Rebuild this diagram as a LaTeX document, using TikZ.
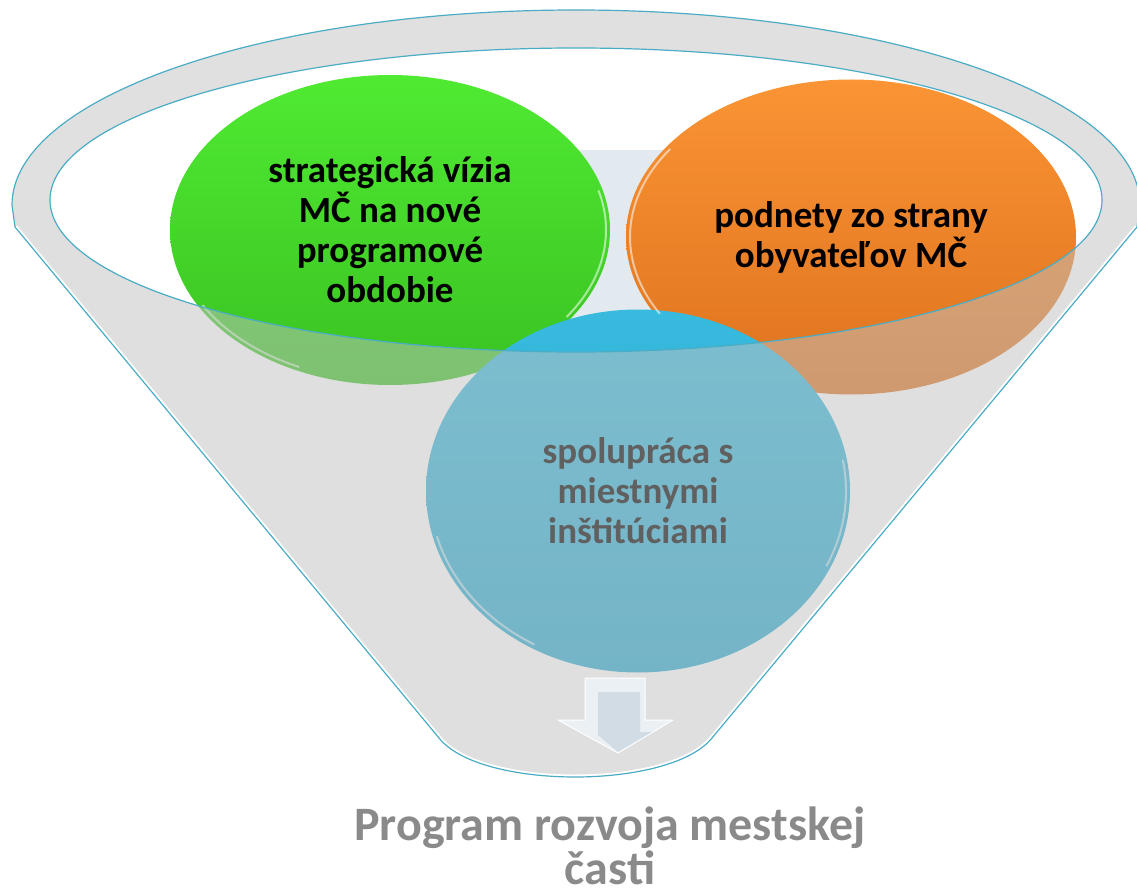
\documentclass[tikz,border=0pt]{standalone}
\usepackage{fontspec}
\setmainfont{Carlito}
\usetikzlibrary{shapes.geometric}

\definecolor{rimgray}{RGB}{224,224,224}
\definecolor{rimblue}{RGB}{75,172,198}
\definecolor{backblue}{RGB}{226,234,240}
\definecolor{frontgray}{RGB}{193,193,193}
\definecolor{greentop}{RGB}{80,234,50}
\definecolor{greenbot}{RGB}{58,194,34}
\definecolor{orangetop}{RGB}{250,148,52}
\definecolor{orangebot}{RGB}{222,114,30}
\definecolor{bluetop}{RGB}{56,186,222}
\definecolor{bluebot}{RGB}{40,168,206}
\definecolor{arrowgray}{RGB}{210,220,228}
\definecolor{arrowlight}{RGB}{234,240,244}
\definecolor{titlegray}{RGB}{138,138,138}

\begin{document}
\begin{tikzpicture}[x=1pt, y=-1pt,
        bubble/.style={ellipse, inner sep=0pt, draw=none,
            font=\bfseries\fontsize{37}{40}\selectfont, align=center},
        gloss/.style={white, line width=2pt, draw opacity=0.55, line cap=round}]
    % the frame
    \useasboundingbox (0,0) rectangle (1137,890);
    \path[clip] (0,0) rectangle (1137,890);

    % funnel corners
    \coordinate (rimL) at (12,205);
    \coordinate (rimR) at (1137,227);
    \coordinate (botR) at (712,738);
    \coordinate (botL) at (439,738);
    \coordinate (legL) at (15,227);

    % the body
    \fill[rimgray] (rimL) arc[start angle=180, end angle=360, x radius=564, y radius=195]
        -- (rimR) -- (botR) .. controls (670,790) and (480,790) .. (botL) -- (legL) -- cycle;
    \fill[white] (50,200) arc[start angle=180, end angle=0, x radius=526, y radius=152]
        -- (1140,200) -- (rimR) -- (botR) .. controls (670,790) and (480,790) .. (botL)
        -- (legL) -- (12,200) -- cycle;

    % the opening
    \fill[white] (576,200) ellipse[x radius=526, y radius=152];
    \begin{scope}
        \clip (576,200) ellipse[x radius=526, y radius=152];
        \fill[backblue] (320,150) rectangle (940,400);
    \end{scope}

    % the bubbles
    \node[bubble, minimum width=440pt, minimum height=310pt,
        top color=greentop, bottom color=greenbot] (vizia) at (390,230)
        {strategická vízia\\MČ na nové\\programové\\obdobie};
    \node[bubble, minimum width=450pt, minimum height=315pt,
        top color=orangetop, bottom color=orangebot] (podnety) at (851,237)
        {podnety zo strany\\obyvateľov MČ};
    \node[bubble, minimum width=424pt, minimum height=363pt,
        top color=bluetop, bottom color=bluebot] (spolupraca) at (638,491)
        {spolupráca s\\miestnymi\\inštitúciami};

    % gloss on the bubbles
    \draw[gloss] ([shift={(-15:216 and 151)}]vizia.center) arc[start angle=-15, end angle=35, x radius=216, y radius=151];
    \draw[gloss] ([shift={(115:216 and 151)}]vizia.center) arc[start angle=115, end angle=150, x radius=216, y radius=151];
    \draw[gloss] ([shift={(150:221 and 153)}]podnety.center) arc[start angle=150, end angle=215, x radius=221, y radius=153];
    \draw[gloss] ([shift={(120:208 and 177)}]spolupraca.center) arc[start angle=120, end angle=165, x radius=208, y radius=177];
    \draw[gloss] ([shift={(-10:208 and 177)}]spolupraca.center) arc[start angle=-10, end angle=25, x radius=208, y radius=177];

    % front of the funnel
    \fill[frontgray, fill opacity=0.5] (50,200) arc[start angle=180, end angle=0, x radius=526, y radius=152]
        -- (1140,200) -- (rimR) -- (botR) .. controls (670,790) and (480,790) .. (botL)
        -- (legL) -- (12,200) -- cycle;

    % outlines
    \draw[white, line width=5pt, line join=round]
        (rimR) -- (botR) .. controls (670,790) and (480,790) .. (botL) -- (legL);
    \draw[rimblue, line width=1.2pt, line join=round] (rimL) arc[start angle=180, end angle=360, x radius=564, y radius=195]
        -- (rimR) -- (botR) .. controls (670,790) and (480,790) .. (botL) -- (legL) -- (rimL);
    \draw[rimblue, line width=1.2pt] (576,200) ellipse[x radius=526, y radius=152];

    % arrow
    \fill[arrowlight, draw=white, line width=1pt, line join=round]
        (585,678) -- (645,678) -- (645,720) -- (673,720) -- (618,753) -- (558,720) -- (585,720) -- cycle;
    \fill[arrowgray]
        (598,692) -- (640,692) -- (640,732) -- (652,732) -- (618,752) -- (598,735) -- cycle;

    % result
    \node[font=\bfseries\fontsize{48}{44}\selectfont, text=titlegray, align=center, inner sep=0pt]
        (program) at (610,846) {Program rozvoja mestskej\\časti};
\end{tikzpicture}
\end{document}
